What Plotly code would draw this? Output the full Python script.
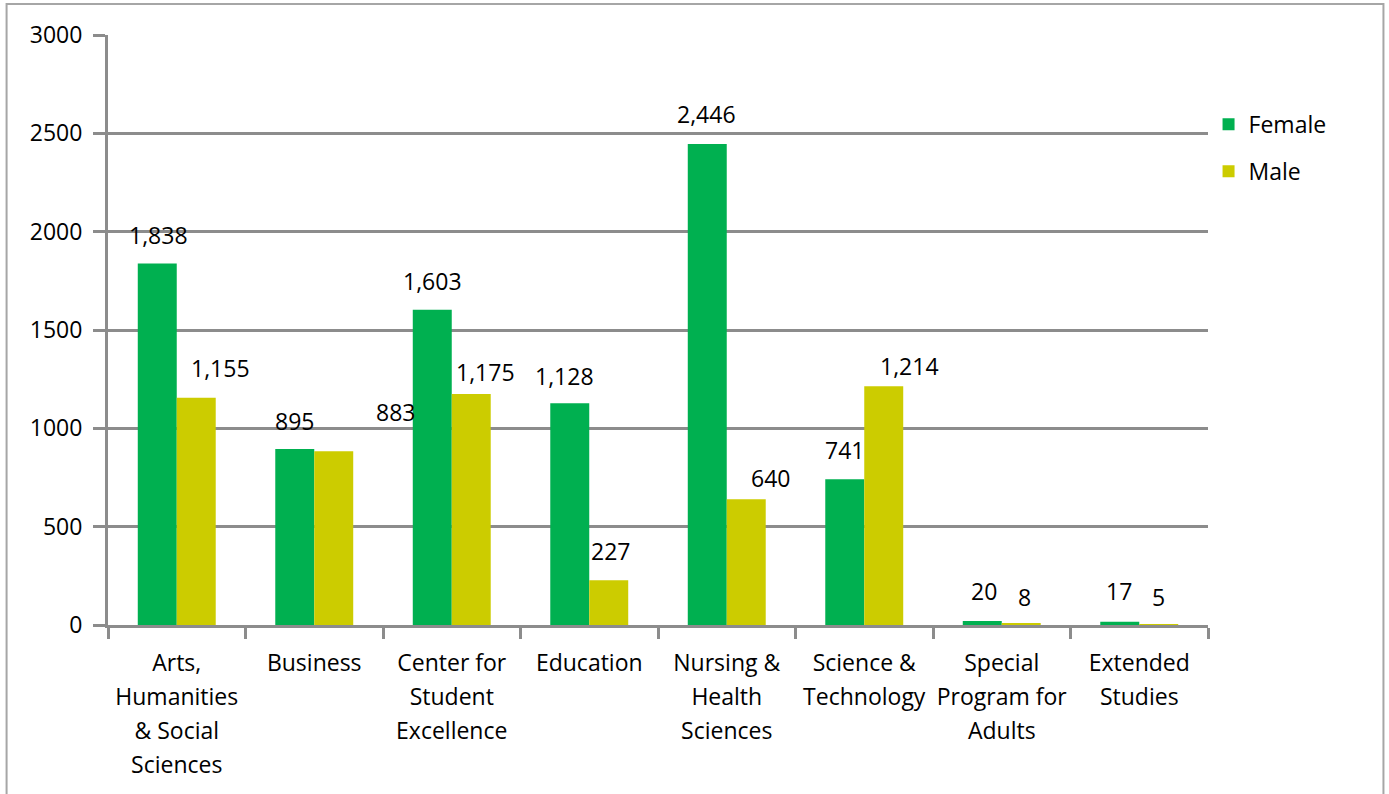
import plotly.graph_objects as go

categories = [
    "Arts,<br>Humanities<br>& Social<br>Sciences",
    "Business",
    "Center for<br>Student<br>Excellence",
    "Education",
    "Nursing &<br>Health<br>Sciences",
    "Science &<br>Technology",
    "Special<br>Program for<br>Adults",
    "Extended<br>Studies",
]
female = [1838, 895, 1603, 1128, 2446, 741, 20, 17]
male = [1155, 883, 1175, 227, 640, 1214, 8, 5]
y_ticks = [0, 500, 1000, 1500, 2000, 2500, 3000]

# label placement tweaks (pixels) to mimic the original layout
female_dx = [1, 0, 0, -5, -1, 0, 2, -1]
female_dy = [0, -1, 0, -2, 1, 0, 1, 2]
male_dx = [24, 62, 14, 2, 24, 26, 3, 0]
male_dy = [1, 10, -7, 0, -8, -9, -3, -2]

FEMALE_C = "#00B050"
MALE_C = "#CCCC00"
GRID_C = "#8C8C8C"
FONT = "Open Sans"
FS = 23

BARGAP = 0.433
half = (1 - BARGAP) / 4  # offset of each bar center from category center

fig = go.Figure()
fig.add_trace(go.Bar(x=categories, y=female, name="Female", marker=dict(color=FEMALE_C, line=dict(width=0)),
                     legendgroup="f"))
fig.add_trace(go.Bar(x=categories, y=male, name="Male", marker=dict(color=MALE_C, line=dict(width=0)),
                     legendgroup="m"))

ann = []
def fmt(v):
    return f"{v:,}"
for i in range(len(categories)):
    for vals, dx, dy, sign in ((female, female_dx, female_dy, -1), (male, male_dx, male_dy, 1)):
        ann.append(dict(x=i + sign * half, y=vals[i], xref="x", yref="y", text=fmt(vals[i]),
                        showarrow=False, yanchor="bottom", xanchor="center",
                        xshift=dx[i], yshift=11 + dy[i],
                        font=dict(family=FONT, size=FS, color="#000000")))

span_open = "<span style='font-size:%dpx'>" % FS
ticktext = [span_open + ("</span><br>" + span_open).join(c.split("<br>")) + "</span>" for c in categories]

fig.update_layout(
    width=1389, height=794,
    margin=dict(l=108, r=181, t=35, b=169),
    paper_bgcolor="white", plot_bgcolor="white",
    barmode="group", bargap=BARGAP, bargroupgap=0,
    font=dict(family=FONT, size=FS, color="#000000"),
    showlegend=True,
    legend=dict(x=1.0005, y=0.885, xanchor="left", yanchor="top", traceorder="grouped",
                tracegroupgap=14, font=dict(family=FONT, size=FS), bgcolor="rgba(0,0,0,0)"),
    annotations=ann,
    xaxis=dict(
        type="category", tickmode="array", tickvals=categories, ticktext=ticktext,
        tickson="boundaries",
        showline=True, linecolor=GRID_C, linewidth=3,
        ticks="outside", ticklen=11, tickwidth=3, tickcolor=GRID_C,
        showgrid=False, zeroline=False,
        tickfont=dict(family=FONT, size=26),
        tickangle=0,
        ticklabelstandoff=12,
    ),
    yaxis=dict(
        range=[0, 3000], tickvals=y_ticks, ticktext=[str(v) for v in y_ticks],
        showline=True, linecolor=GRID_C, linewidth=3,
        ticks="outside", ticklen=12, tickwidth=3, tickcolor=GRID_C,
        showgrid=True, gridcolor=GRID_C, gridwidth=3, zeroline=False,
        tickfont=dict(family=FONT, size=FS),
        ticklabelstandoff=6,
    ),
    shapes=[dict(type="rect", xref="paper", yref="paper",
                 x0=-0.0922, x1=1.1595, y0=-0.35, y1=1.0525,
                 line=dict(color="#A6A6A6", width=2), layer="below")],
)

fig.write_html("out.html", config={"displayModeBar": False},
               post_script="document.body.style.margin='0';document.body.style.overflow='hidden';")
